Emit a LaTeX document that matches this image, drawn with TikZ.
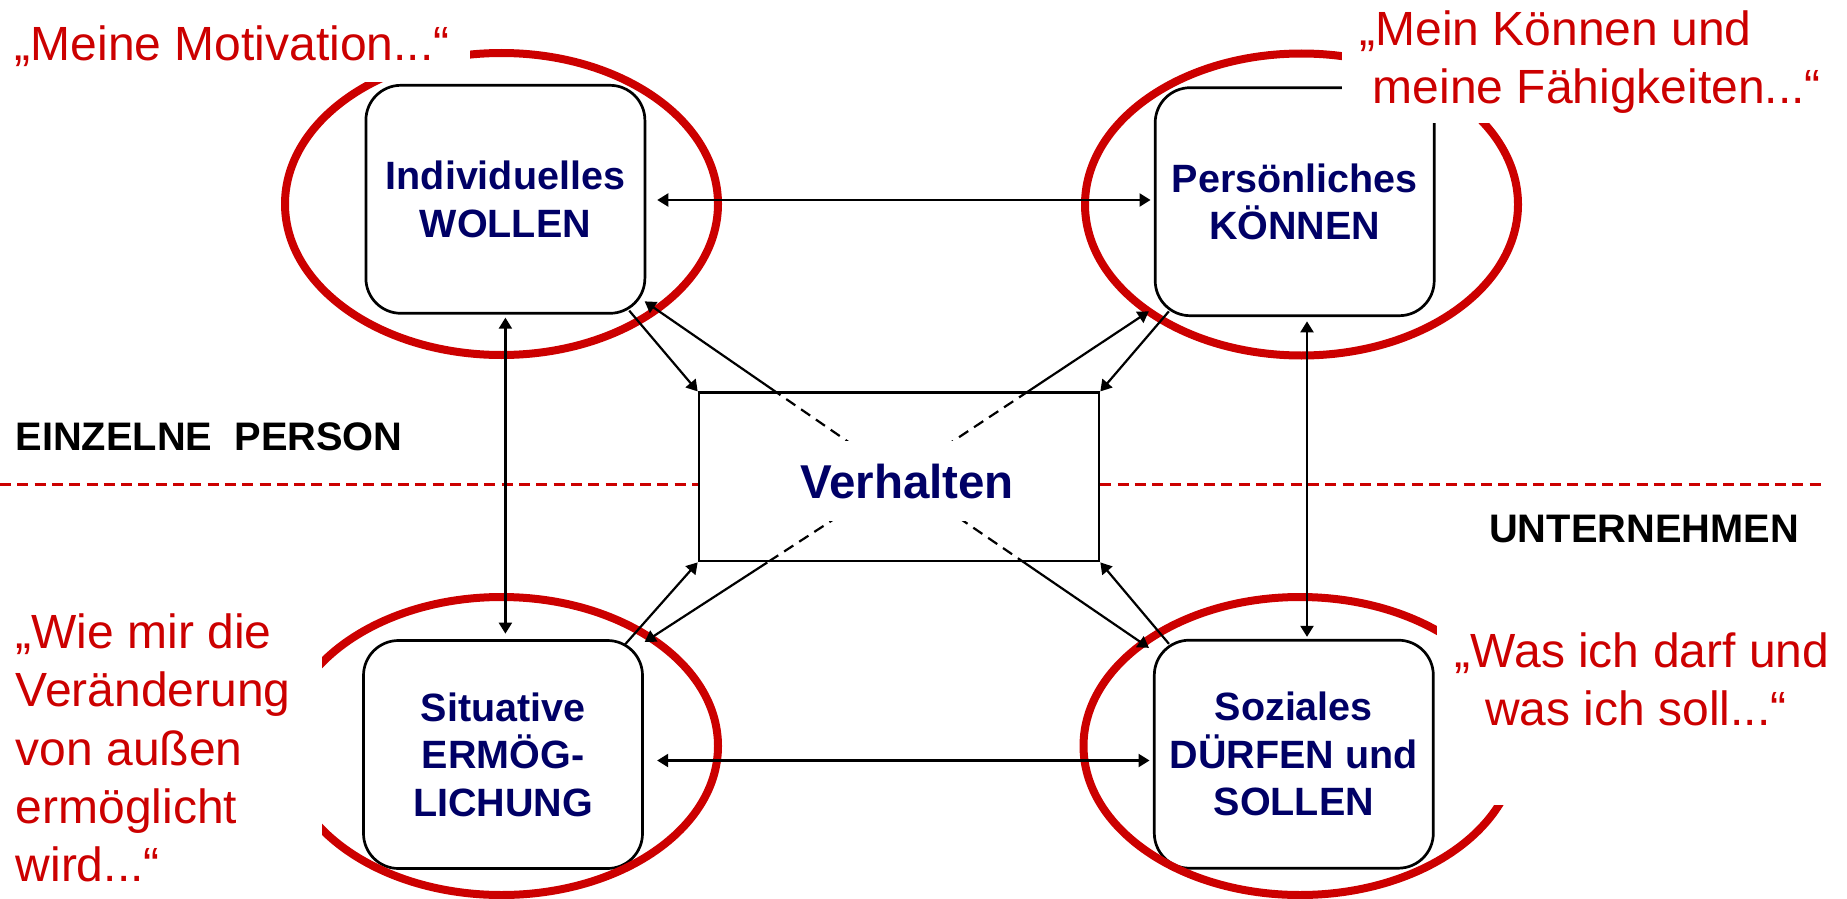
\documentclass[tikz,border=0pt]{standalone}
\usepackage{fontspec}
\setmainfont{Liberation Sans}
\usetikzlibrary{arrows.meta,calc}
\definecolor{ringred}{RGB}{204,0,0}
\definecolor{labelblue}{RGB}{0,0,102}
\begin{document}
\begin{tikzpicture}[x=1pt,y=-1pt,
  box/.style={draw=black, line width=2.7pt, rounded corners=35pt, minimum width=279pt, minimum height=228pt, inner sep=0pt, align=center, text=labelblue, font=\fontsize{39.5}{47.5}\selectfont\bfseries},
  ring/.style={draw=ringred, line width=8pt},
  quote/.style={text=ringred, font=\fontsize{48}{58.3}\selectfont, inner sep=0pt, align=left, anchor=base west},
  side/.style={font=\fontsize{39.8}{47.5}\selectfont\bfseries, inner sep=0pt, anchor=base west},
  conn/.style={line width=2.2pt, -{Triangle[length=11pt,width=13pt]}},
  biconn/.style={line width=2.2pt, {Triangle[length=11pt,width=13pt]}-{Triangle[length=11pt,width=13pt]}},
  hidden/.style={line width=2.2pt, dash pattern=on 11pt off 7pt},
  divider/.style={draw=ringred, line width=3pt, dash pattern=on 11pt off 6.3pt},
]
\useasboundingbox (0,0) rectangle (1847,899);

% boxes
\node[box] (wollen) at (505.4,199.3) {Individuelles\\WOLLEN};
\node[box] (koennen) at (1294.7,201.7) {Persönliches\\KÖNNEN};
\node[box] (ermoeg) at (503,754.5) {Situative\\ERMÖG-\\LICHUNG};
\node[box] (duerfen) at (1293.8,754.2) {Soziales\\DÜRFEN und\\SOLLEN};
\node[draw, line width=2.7pt, minimum width=400pt, minimum height=168.3pt, inner sep=0pt] (vh) at (899,476.9) {};

% red rings
\draw[ring] (501.5,204) ellipse [x radius=216.5pt, y radius=151pt];
\draw[ring] (1301.5,204.5) ellipse [x radius=216.5pt, y radius=151pt];
\draw[ring] (501.5,746) ellipse [x radius=216.5pt, y radius=149pt];
\draw[ring] (1300,746) ellipse [x radius=216.5pt, y radius=149pt];

% divider
\coordinate (dl) at (0,484);
\coordinate (dr) at (1823,484);
\draw[divider] (dl) -- (dl -| vh.west);
\draw[divider] (dr -| vh.east) -- (dr);

% straight double arrows
\coordinate (hTop) at (0,200);
\coordinate (hBot) at (0,760.5);
\coordinate (vR) at (1307,0);
\draw[biconn] ($(wollen.east |- hTop)+(11,0)$) -- ($(koennen.west |- hTop)+(-3.3,0)$);
\draw[biconn] ($(ermoeg.east |- hBot)+(13.3,0)$) -- ($(duerfen.west |- hBot)+(-3.4,0)$);
\draw[biconn] ($(wollen.south)+(0,3)$) -- ($(wollen.south |- ermoeg.north)+(0,-5.5)$);
\draw[biconn] ($(vR |- koennen.south)+(0,4.3)$) -- ($(vR |- duerfen.north)+(0,-2)$);

% diagonal connectors
\coordinate (tTL) at ($(wollen.south east)+(-1.6,-13.3)$);
\coordinate (sTL) at ($(wollen.south east)+(-17,-4)$);
\coordinate (tTR) at ($(koennen.south west)+(-5,-5.7)$);
\coordinate (sTR) at ($(koennen.south west)+(15,-5.7)$);
\coordinate (tBL) at ($(ermoeg.north east)+(0.8,2.8)$);
\coordinate (sBL) at ($(ermoeg.north east)+(-19,5.5)$);
\coordinate (tBR) at ($(duerfen.north west)+(-4,9)$);
\coordinate (sBR) at ($(duerfen.north west)+(16,5)$);

\draw[conn] (sTL) -- (vh.north west);
\draw[conn] (sTR) -- (vh.north east);
\draw[conn] (sBL) -- (vh.south west);
\draw[conn] (sBR) -- (vh.south east);

\coordinate (xTL) at (intersection of vh.north west--vh.north east and vh.center--tTL);
\coordinate (xTR) at (intersection of vh.north west--vh.north east and vh.center--tTR);
\coordinate (xBL) at (intersection of vh.south west--vh.south east and vh.center--tBL);
\coordinate (xBR) at (intersection of vh.south west--vh.south east and vh.center--tBR);
\draw[hidden] (vh.center) -- (xTL);
\draw[hidden] (vh.center) -- (xTR);
\draw[hidden] (vh.center) -- (xBL);
\draw[hidden] (vh.center) -- (xBR);
\draw[conn] (xTL) -- (tTL);
\draw[conn] (xTR) -- (tTR);
\draw[conn] (xBL) -- (tBL);
\draw[conn] (xBR) -- (tBR);

% centre label
\node[fill=white, inner xsep=20pt, inner ysep=0pt, minimum height=80pt, text height=34pt, text depth=0pt, text=labelblue, font=\fontsize{47.5}{57}\selectfont\bfseries] (vht) at (907,481) {Verhalten};

% quotes (multi-line nodes: base anchor sits on the last line)
\fill[white] (-5,-5) rectangle (470,82);
\node[quote] (qTL) at (14.6,61) {„Meine Motivation...“};
\fill[white] (1341.7,-5) rectangle (1852,123.3);
\node[quote] (qTR) at (1359.3,103.3) {„Mein Können und\\\hspace*{13.3pt}meine Fähigkeiten...“};
\fill[white] (-5,590) rectangle (321.7,904);
\node[quote] (qBL) at (15.5,881.6) {„Wie mir die\\Veränderung\\von außen\\ermöglicht\\wird...“};
\fill[white] (1437,600) rectangle (1852,805);
\node[quote] (qBR) at (1454.6,725.7) {„Was ich darf und\\\hspace*{30.5pt}was ich soll...“};

% side labels
\node[side] (einz) at (15.4,450) {EINZELNE\ \ PERSON};
\node[side] (unt) at (1489,542.7) {UNTERNEHMEN};
\end{tikzpicture}
\end{document}
